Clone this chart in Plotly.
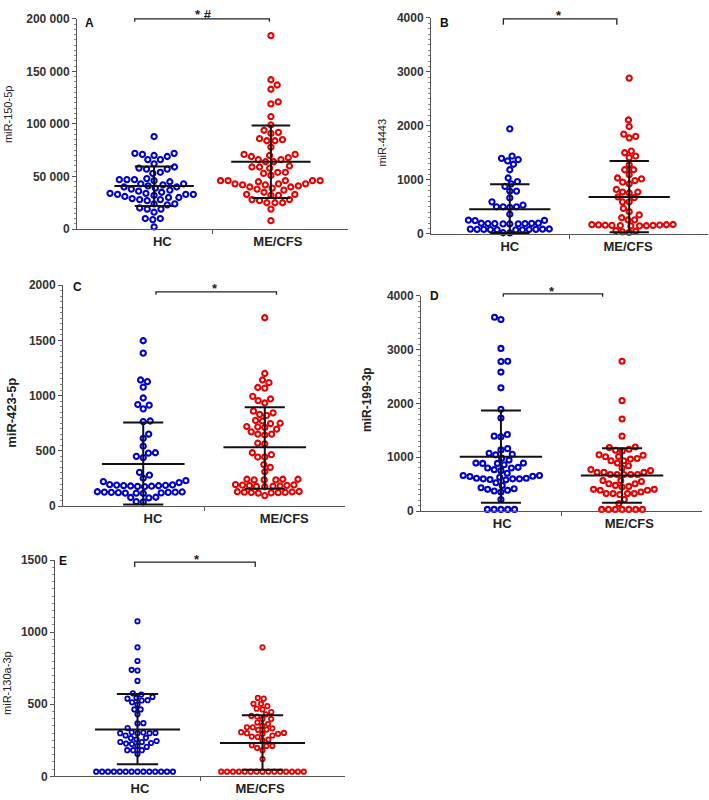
import plotly.graph_objects as go

# ---------------- data ----------------
groups = ["HC", "ME/CFS"]

a_hc = [88000, 72000, 72000, 71000, 70000, 69000, 66000, 66000, 62000, 59000, 58000, 57000, 57000,
        54000, 53000, 48000, 47000, 47000, 47000, 46000, 45000, 43000, 43000, 42000, 41000, 40000,
        40000, 39000, 38000, 37000, 36000, 35000, 34000, 34000, 33000, 33000, 33000, 32000, 31000,
        30000, 30000, 29000, 28000, 28000, 27000, 24000, 24000, 23000, 20000, 19000, 19000, 16000,
        10000, 10000, 9000, 2000]
a_me = [184000, 142000, 137000, 133000, 121000, 119000, 107000, 99000, 94000, 92000, 91000, 86000,
        85000, 84000, 84000, 78000, 71000, 71000, 70000, 69000, 68000, 66000, 66000, 64000, 64000,
        60000, 59000, 59000, 58000, 54000, 54000, 53000, 51000, 46000, 46000, 46000, 46000, 46000,
        45000, 43000, 43000, 43000, 42000, 42000, 41000, 40000, 40000, 39000, 38000, 37000, 35000,
        33000, 33000, 32000, 32000, 28000, 28000, 27000, 25000, 25000, 25000, 19000, 8000]

b_hc = [1945, 1442, 1400, 1376, 1351, 1290, 1188, 1036, 970, 927, 879, 794, 794, 667, 594, 533, 503,
        503, 503, 491, 364, 255, 250, 248, 200, 198, 195, 193, 192, 190, 188, 186, 185, 92, 90, 88,
        86, 85, 84, 82, 80, 78, 76, 75, 22, 20]
b_me = [2885, 2109, 1988, 1848, 1806, 1776, 1533, 1503, 1442, 1412, 1279, 1188, 1188, 1097, 1036, 1018,
        988, 958, 927, 824, 776, 776, 758, 685, 673, 594, 594, 473, 412, 352, 300, 262, 258, 175, 172,
        170, 168, 165, 162, 160, 158, 155, 152, 150, 148, 60, 50, 40, 30]

c_hc = [1496, 1384, 1141, 1126, 1076, 978, 919, 913, 880, 770, 764, 652, 613, 542, 483, 480, 450, 438,
        305, 281, 252, 230, 222, 213, 195, 192, 190, 188, 186, 184, 182, 180, 178, 176, 130, 128,
        127, 126, 125, 124, 122, 120, 118, 117, 115, 80, 78, 75, 40, 38]
c_me = [1704, 1200, 1141, 1117, 1073, 1067, 993, 969, 954, 933, 859, 844, 830, 821, 776, 770, 750, 747,
        720, 717, 711, 696, 672, 652, 652, 643, 569, 563, 483, 465, 444, 444, 376, 350, 311, 243, 243,
        243, 237, 237, 237, 195, 192, 190, 188, 185, 182, 180, 178, 175, 132, 130, 128, 126, 125, 123,
        122, 120, 118, 95]

d_hc = [3603, 3560, 3023, 2785, 2779, 2583, 2290, 1893, 1728, 1423, 1392, 1380, 1160, 1136, 1075, 1056,
        1044, 983, 947, 891, 891, 885, 885, 861, 812, 800, 800, 769, 751, 702, 660, 660, 647, 641, 629,
        610, 610, 598, 598, 598, 586, 580, 525, 476, 434, 415, 403, 385, 372, 354, 214, 30, 30, 30, 30, 30]
d_me = [2785, 2052, 1710, 1392, 1191, 1179, 1148, 1130, 1118, 1044, 1038, 1014, 1008, 977, 965, 934, 934,
        891, 843, 800, 770, 751, 721, 721, 721, 678, 678, 678, 678, 678, 568, 568, 550, 507, 507, 476,
        458, 446, 403, 403, 385, 385, 354, 324, 324, 324, 324, 305, 214, 140, 30, 30, 30, 30, 30, 30, 30]

e_hc = [1076, 895, 800, 739, 734, 662, 576, 567, 551, 544, 539, 528, 526, 514, 498, 464, 464, 430, 369,
        367, 335, 306, 304, 301, 299, 299, 299, 283, 267, 265, 256, 245, 238, 238, 231, 227, 224, 211,
        204, 181, 181, 181, 154] + [32] * 14
e_me = [895, 544, 539, 503, 503, 487, 469, 464, 446, 430, 419, 415, 397, 397, 374, 363, 351, 340, 340,
        333, 324, 322, 306, 301, 299, 295, 295, 283, 276, 272, 254, 249, 215, 211, 211, 197, 181,
        120] + [32] * 15

# summary bars: (centre, lower, upper)
a_hc_stats = [41000, 22000, 59500]
a_me_stats = [64000, 29500, 98600]
b_hc_stats = [455, 18, 921]
b_me_stats = [685, 30, 1351]
c_hc_stats = [382, 15, 756]
c_me_stats = [533, 157, 895]
d_hc_stats = [1008, 153, 1869]
d_me_stats = [660, 153, 1166]
e_hc_stats = [324, 84, 571]
e_me_stats = [231, 45, 424]

y_titles = ["miR-150-5p", "miR-4443", "miR-423-5p", "miR-199-3p", "miR-130a-3p"]
panel_letters = ["A", "B", "C", "D", "E"]
sig_texts = ["* #", "*", "*", "*", "*"]

a_ticks = [0, 50000, 100000, 150000, 200000]
a_ticklabels = ["0", "50 000", "100 000", "150 000", "200 000"]
b_ticks = [0, 1000, 2000, 3000, 4000]
c_ticks = [0, 500, 1000, 1500, 2000]
d_ticks = [0, 1000, 2000, 3000, 4000]
e_ticks = [0, 500, 1000, 1500]

# ---------------- layout / style ----------------
W, H = 709, 800
XR = [-0.66, 1.66]
BLUE = "#0000CC"
RED = "#E60000"
FONT = "Arial, Liberation Sans, sans-serif"

panels = [
    dict(hc=a_hc, me=a_me, hs=a_hc_stats, ms=a_me_stats, ticks=a_ticks, tlab=a_ticklabels,
         xpx=(77, 348), ypx=(12, 226), ymax=200000, minor=5000,
         lab=(0.07, 1.06), title=(8, 110, 11, False), letter=(89, 16),
         br=(-0.18, 0.97, 200000, 3), star=(203, 5), msize=5.2, d=7.6),
    dict(hc=b_hc, me=b_me, hs=b_hc_stats, ms=b_me_stats, ticks=b_ticks, tlab=[str(t) for t in b_ticks],
         xpx=(431, 708), ypx=(11, 231), ymax=4000, minor=100,
         lab=(0.0, 0.99), title=(382, 138, 11, False), letter=(444, 16),
         br=(-0.07, 0.87, 3980, 6), star=(559, 6), msize=5.2, d=6.7),
    dict(hc=c_hc, me=c_me, hs=c_hc_stats, ms=c_me_stats, ticks=c_ticks, tlab=[str(t) for t in c_ticks],
         xpx=(63, 345), ypx=(283, 508), ymax=2000, minor=50,
         lab=(0.08, 1.16), title=(12, 413, 13, True), letter=(77, 285),
         br=(0.11, 1.07, 1938, 3), star=(215, 284), msize=5.2, d=7.0),
    dict(hc=d_hc, me=d_me, hs=d_hc_stats, ms=d_me_stats, ticks=d_ticks, tlab=[str(t) for t in d_ticks],
         xpx=(421, 702), ypx=(294, 513), ymax=4000, minor=100,
         lab=(0.01, 1.06), title=(367, 400, 12, True), letter=(434, 294),
         br=(0.0, 0.83, 4037, 3), star=(552, 287), msize=5.0, d=6.8),
    dict(hc=e_hc, me=e_me, hs=e_hc_stats, ms=e_me_stats, ticks=e_ticks, tlab=[str(t) for t in e_ticks],
         xpx=(55, 345), ypx=(563, 783), ymax=1500, minor=50,
         lab=(0.02, 0.98), title=(7, 688, 11, False), letter=(63, 564),
         br=(0.0, 0.94, 1486, 5), star=(197, 559), msize=4.4, d=5.9),
]


def swarm(values, centre, ux, uy, d):
    """Beeswarm layout: returns x data positions so that markers do not overlap."""
    order = sorted(range(len(values)), key=lambda i: values[i])
    placed = []
    xs = [centre] * len(values)
    for n, i in enumerate(order):
        y = values[i] * uy
        near = [(px, py) for px, py in placed if abs(py - y) < d]
        cands = [0.0]
        for px, py in near:
            dx = (d * d - (py - y) ** 2) ** 0.5
            cands += [px + dx, px - dx]
        sign = 1 if n % 2 == 0 else -1
        cands.sort(key=lambda c: (round(abs(c), 4), -sign * c))
        for c in cands:
            if all((c - px) ** 2 + (y - py) ** 2 >= d * d - 1e-6 for px, py in near):
                placed.append((c, y))
                xs[i] = centre + c / ux
                break
    return xs


fig = go.Figure()
shapes, annotations = [], []
layout_axes = {}

for idx, p in enumerate(panels):
    n = "" if idx == 0 else str(idx + 1)
    xa, ya = "x" + n, "y" + n
    x0p, x1p = p["xpx"]
    y0p, y1p = p["ypx"]
    ux = (x1p - x0p) / (XR[1] - XR[0])
    uy = (y1p - y0p) / p["ymax"]

    def to_px(xd, yd, x0p=x0p, y1p=y1p, ux=ux, uy=uy):
        return x0p + (xd - XR[0]) * ux, y1p - yd * uy

    for gi, (vals, col) in enumerate([(p["hc"], BLUE), (p["me"], RED)]):
        xs = swarm(vals, gi, ux, uy, p["d"])
        fig.add_trace(go.Scatter(
            x=xs, y=vals, mode="markers", xaxis=xa, yaxis=ya, cliponaxis=False,
            marker=dict(symbol="circle-open", size=p["msize"], color=col,
                        line=dict(width=2.1 if p["msize"] > 4.8 else 1.8, color=col)),
            hoverinfo="y", showlegend=False))

    # error bars
    for gi, st in enumerate([p["hs"], p["ms"]]):
        c, lo, hi = st
        hw, cw = 0.34, 0.165
        bx = [gi - hw, gi + hw, None, gi, gi, None, gi - cw, gi + cw, None, gi - cw, gi + cw]
        by = [c, c, None, lo, hi, None, lo, lo, None, hi, hi]
        fig.add_trace(go.Scatter(x=bx, y=by, mode="lines", xaxis=xa, yaxis=ya,
                                 line=dict(color="#111111", width=2), hoverinfo="skip",
                                 showlegend=False))

    layout_axes["xaxis" + n] = dict(
        domain=[x0p / W, x1p / W], range=XR, anchor=ya, showgrid=False, zeroline=False,
        showline=True, linecolor="#555555", linewidth=1,
        tickmode="array", tickvals=list(p["lab"]), ticktext=groups, ticks="",
        ticklabelstandoff=0,
        tickfont=dict(family=FONT, size=13, color="#222222", weight="bold"),
        minor=dict(tickmode="array", tickvals=[0.5], ticks="outside", ticklen=4,
                   tickcolor="#555555", tickwidth=1),
        fixedrange=True)
    layout_axes["yaxis" + n] = dict(
        domain=[1 - y1p / H, 1 - y0p / H], range=[0, p["ymax"]], anchor=xa, showgrid=False,
        zeroline=False, showline=True, linecolor="#555555", linewidth=1,
        tickmode="array", tickvals=p["ticks"], ticktext=p["tlab"], ticks="outside", ticklen=4,
        tickcolor="#555555",
        tickfont=dict(family=FONT, size=12, color="#333333", weight="bold"),
        minor=dict(dtick=p["minor"], tick0=0, ticks="outside", ticklen=2.5,
                   tickcolor="#888888", tickwidth=1),
        fixedrange=True)

    # significance bracket
    bx0, bx1, byv, tl = p["br"]
    px0, pyb = to_px(bx0, byv)
    px1, _ = to_px(bx1, byv)
    path = "M{:.2f},{:.4f} L{:.2f},{:.4f} L{:.2f},{:.4f} L{:.2f},{:.4f}".format(
        px0 / W, 1 - (pyb + tl) / H, px0 / W, 1 - pyb / H, px1 / W, 1 - pyb / H,
        px1 / W, 1 - (pyb + tl) / H)
    shapes.append(dict(type="path", path=path, xref="paper", yref="paper",
                       line=dict(color="#222222", width=1.3)))
    sx, sy = p["star"]
    annotations.append(dict(text=sig_texts[idx], x=sx / W, y=1 - (sy + 3) / H, xref="paper",
                            yref="paper", showarrow=False, xanchor="center", yanchor="middle",
                            font=dict(family=FONT, size=13, color="#222222", weight="bold")))

    # panel letter
    lx, ly = p["letter"]
    annotations.append(dict(text=panel_letters[idx], x=lx / W, y=1 - ly / H, xref="paper",
                            yref="paper", showarrow=False, xanchor="center", yanchor="middle",
                            font=dict(family=FONT, size=12, color="#111111", weight="bold")))

    # y-axis title
    tx, ty, tsz, tb = p["title"]
    annotations.append(dict(text=y_titles[idx], x=tx / W, y=1 - ty / H, xref="paper",
                            yref="paper", showarrow=False, textangle=-90, xanchor="center",
                            yanchor="middle",
                            font=dict(family=FONT, size=tsz, color="#222222",
                                      weight="bold" if tb else "normal")))

fig.update_layout(width=W, height=H, margin=dict(l=0, r=0, t=0, b=0),
                  paper_bgcolor="white", plot_bgcolor="white", showlegend=False,
                  shapes=shapes, annotations=annotations, **layout_axes)

fig.write_html("out.html", config={"displayModeBar": False},
               post_script="document.body.style.margin='0';document.body.style.padding='0';"
                           "document.body.style.overflow='hidden';")
